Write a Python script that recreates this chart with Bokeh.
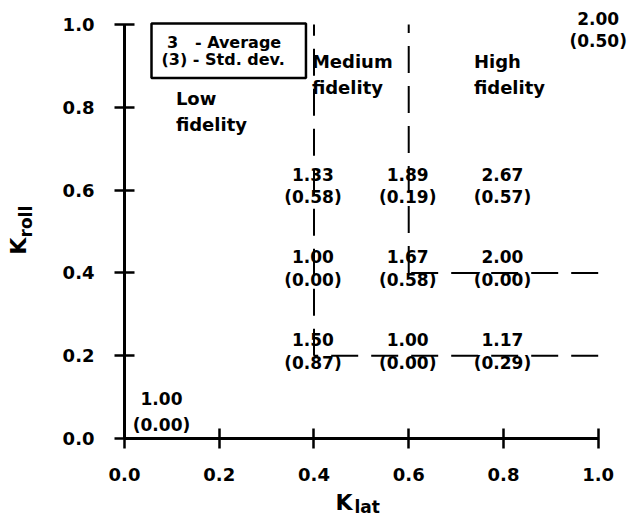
from bokeh.plotting import figure
from bokeh.models import Label, FixedTicker, Range1d, ColumnDataSource, Title
from bokeh.core.properties import value
from bokeh.embed import file_html
from bokeh.resources import INLINE

# ---- data ----
k_lat = [0.4, 0.6, 0.8, 0.4, 0.6, 0.8, 0.4, 0.6, 0.8, 0.0, 1.0]
k_roll = [0.6, 0.6, 0.6, 0.4, 0.4, 0.4, 0.2, 0.2, 0.2, 0.0, 1.0]
avg_rating = [1.33, 1.89, 2.67, 1.00, 1.67, 2.00, 1.50, 1.00, 1.17, 1.00, 2.00]
std_rating = [0.58, 0.19, 0.57, 0.00, 0.58, 0.00, 0.87, 0.00, 0.29, 0.00, 0.50]

boundary_x = [[0.4, 0.4], [0.6, 0.6], [1.0, 0.4], [1.0, 0.6]]
boundary_y = [[0.2, 1.0], [0.4, 1.0], [0.2, 0.2], [0.4, 0.4]]

region_names = ["Low\nfidelity", "Medium\nfidelity", "High\nfidelity"]

x_ticks = [0.0, 0.2, 0.4, 0.6, 0.8, 1.0]
x_tick_labels = ["0.0", "0.2", "0.4", "0.6", "0.8", "1.0"]
y_ticks = [0.0, 0.2, 0.4, 0.6, 0.8, 1.0]
y_tick_labels = ["0.0", "0.2", "0.4", "0.6", "0.8", "1.0"]

x_title, x_sub = "K", "lat"
y_title, y_sub = "K", "roll"

NB = "\u00a0"
legend_text = f"{NB}3{NB}{NB}{NB}- Average\n(3) - Std. dev.{NB}{NB}"

FONT = "DejaVu Sans"

# ---- figure ----
p = figure(width=632, height=520, output_backend="svg", toolbar_location=None,
           x_range=Range1d(0, 1.0724), y_range=Range1d(0, 1.058),
           min_border_left=124, min_border_right=0, min_border_top=0,
           min_border_bottom=82)
p.outline_line_color = None
p.grid.visible = False
p.background_fill_color = "white"
p.border_fill_color = "white"

for ax, ticks, labels in ((p.xaxis[0], x_ticks, x_tick_labels),
                          (p.yaxis[0], y_ticks, y_tick_labels)):
    ax.ticker = FixedTicker(ticks=ticks)
    ax.major_label_overrides = {t: l for t, l in zip(ticks, labels)}
    ax.bounds = (0, 1)
    ax.axis_line_width = 3
    ax.axis_line_color = "black"
    ax.major_tick_line_width = 2.5
    ax.major_tick_line_color = "black"
    ax.major_tick_in = 10
    ax.major_tick_out = 10
    ax.minor_tick_line_color = None
    ax.major_label_text_font = FONT
    ax.major_label_text_font_style = "bold"
    ax.major_label_text_font_size = "18px"
    ax.major_label_text_color = "black"
    ax.axis_label_text_font = FONT
    ax.axis_label_text_font_style = "bold"
    ax.axis_label_text_font_size = "22px"
    ax.axis_label_text_color = "black"
p.xaxis.major_label_standoff = 19
p.yaxis.major_label_standoff = 20
# main letter of each axis title (padding shifts it off-centre like the original)
p.xaxis.axis_label = x_title + NB * 9
p.xaxis.axis_label_standoff = 6
p.yaxis.axis_label = y_title + NB * 7
p.yaxis.axis_label_standoff = 29

# subscripts as side-panel titles
tprops = dict(text_font=FONT, text_font_style="bold", text_color="black",
              text_font_size="17px", align="left")
p.add_layout(Title(text=x_sub, vertical_align="top", offset=230, standoff=-41,
                   **tprops), "below")
p.add_layout(Title(text=y_sub, vertical_align="bottom", offset=201, standoff=-66,
                   **tprops), "left")

# boundaries between fidelity regions
p.multi_line(xs=boundary_x, ys=boundary_y, line_color="black", line_width=2,
             line_dash="27 13")

# point labels: average and (std. dev.)
dx, dy_avg, dy_std = [], [], []
for x, y in zip(k_lat, k_roll):
    if x == 0 and y == 0:
        dx.append(37); dy_avg.append(-40); dy_std.append(-14)
    elif x == 1 and y == 1:
        dx.append(0); dy_avg.append(-6); dy_std.append(16)
    else:
        dx.append(-1); dy_avg.append(-16); dy_std.append(7)

src = ColumnDataSource(dict(
    x=k_lat, y=k_roll,
    avg=[f"{a:.2f}" for a in avg_rating],
    std=[f"({s:.2f})" for s in std_rating],
    dx=dx, dya=dy_avg, dys=dy_std))

common = dict(text_font=value(FONT), text_font_style="bold", text_font_size="17px",
              text_align="center", text_baseline="middle", text_color="black")
p.text(x="x", y="y", text="avg", x_offset="dx", y_offset="dya", source=src, **common)
p.text(x="x", y="y", text="std", x_offset="dx", y_offset="dys", source=src, **common)

# region labels
region_pos = [(0.1085, 0.8466), (0.3956, 0.936), (0.7376, 0.936)]
for name, (rx, ry) in zip(region_names, region_pos):
    p.add_layout(Label(x=rx, y=ry, text=name, text_font=FONT, text_font_style="bold",
                       text_font_size="18px", text_align="left", text_baseline="top",
                       text_line_height=1.25, text_color="black"))

# legend box
p.add_layout(Label(x=0.057, y=1.0024, text=legend_text, text_font=FONT,
                   text_font_style="bold", text_font_size="16px",
                   text_align="left", text_baseline="top", text_line_height=0.92,
                   padding=(10, 9), border_line_color="black", border_line_width=2.5,
                   background_fill_color="white", text_color="black"))

open("out.html", "w").write(file_html(p, INLINE))
